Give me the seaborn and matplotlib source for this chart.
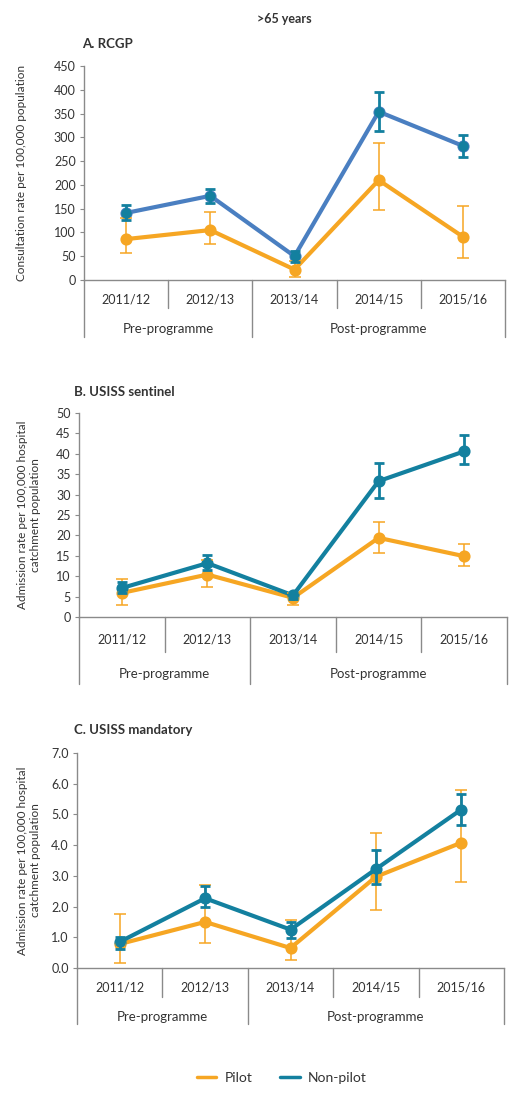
import numpy as np
import pandas as pd
import seaborn as sns
import matplotlib
matplotlib.use("Agg")
import matplotlib.pyplot as plt
from matplotlib.lines import Line2D

# ---------------- data ----------------
seasons = ["2011/12", "2012/13", "2013/14", "2014/15", "2015/16"]
groups = ["Pilot", "Non-pilot"]
phase_labels = ["Pre-programme", "Post-programme"]

# A. RCGP
a_pilot = [86, 105, 22, 210, 91]
a_pilot_lo = [56, 75, 6, 147, 47]
a_pilot_hi = [130, 144, 40, 288, 155]
a_non = [141, 177, 50, 354, 282]
a_non_lo = [126, 162, 37, 314, 259]
a_non_hi = [157, 192, 62, 396, 305]

# B. USISS sentinel
b_pilot = [5.9, 10.4, 4.7, 19.4, 14.9]
b_pilot_lo = [3.0, 7.3, 3.0, 15.6, 12.5]
b_pilot_hi = [9.4, 14.0, 6.0, 23.4, 18.0]
b_non = [7.1, 13.2, 5.3, 33.3, 40.6]
b_non_lo = [5.9, 11.5, 4.5, 29.2, 37.4]
b_non_hi = [8.5, 15.2, 6.0, 37.7, 44.7]

# C. USISS mandatory
c_pilot = [0.78, 1.50, 0.65, 2.97, 4.08]
c_pilot_lo = [0.17, 0.82, 0.25, 1.88, 2.80]
c_pilot_hi = [1.75, 2.70, 1.55, 4.38, 5.80]
c_non = [0.85, 2.27, 1.25, 3.22, 5.16]
c_non_lo = [0.62, 2.00, 0.97, 2.72, 4.65]
c_non_hi = [1.02, 2.68, 1.50, 3.85, 5.65]

ORANGE = "#f6a623"
TEAL = "#13809f"
BLUE = "#4a7fc1"
GRAY = "#8a8a8a"
TXT = "#333333"

sns.set_style("ticks")
plt.rcParams["font.family"] = ["Lato", "DejaVu Sans"]

W, H = 527, 1097
fig = plt.figure(figsize=(W / 100, H / 100), dpi=100)


def make_axes(left, top, right, bottom):
    ax = fig.add_axes([left / W, 1 - bottom / H, (right - left) / W, (bottom - top) / H])
    return ax, bottom - top


def panel(rect, title, title_xy, ylabel, ylabel_x, ylim, yticks, yfmt,
          pilot, plo, phi, non, nlo, nhi, non_line_color,
          cat_off, short_off, grp_off, long_off):
    ax, hpx = make_axes(*rect)
    df = pd.DataFrame({
        "season": seasons * 2,
        "rate": list(pilot) + list(non),
        "group": [groups[0]] * 5 + [groups[1]] * 5,
    })
    sns.pointplot(data=df, x="season", y="rate", hue="group", order=seasons,
                  hue_order=groups, palette={"Pilot": ORANGE, "Non-pilot": non_line_color},
                  errorbar=None, markers="o", linewidth=3.0, markersize=6.5,
                  legend=False, ax=ax)
    xs = np.arange(len(seasons))
    ax.errorbar(xs, pilot, yerr=[np.array(pilot) - np.array(plo), np.array(phi) - np.array(pilot)],
                fmt="o", color=ORANGE, ecolor=ORANGE, elinewidth=1.1, capsize=4, capthick=1.1,
                markersize=6.5, zorder=5)
    ax.errorbar(xs, non, yerr=[np.array(non) - np.array(nlo), np.array(nhi) - np.array(non)],
                fmt="o", color=TEAL, ecolor=TEAL, elinewidth=2.0, capsize=3.5, capthick=2.0,
                markersize=6.5, zorder=6)
    ax.set_xlim(-0.5, len(seasons) - 0.5)
    ax.set_ylim(*ylim)
    ax.set_yticks(yticks)
    ax.set_yticklabels([yfmt.format(v) for v in yticks], fontsize=9, color=TXT)
    ax.set_xticks([])
    ax.set_xlabel("")
    ax.set_ylabel("")
    sns.despine(ax=ax)
    for s in ["left", "bottom"]:
        ax.spines[s].set_color(GRAY)
        ax.spines[s].set_linewidth(1.0)
    ax.tick_params(axis="y", length=3, width=0.8, color=GRAY, pad=3)

    tr = ax.get_xaxis_transform()
    f = lambda px: -px / hpx
    for i, s in enumerate(seasons):
        ax.text(i, f(cat_off), s, transform=tr, ha="center", va="center",
                fontsize=9, color=TXT)
    for xb in [0.5, 2.5, 3.5]:
        ax.add_line(Line2D([xb, xb], [0, f(short_off)], transform=tr, color=GRAY,
                           lw=1.0, clip_on=False))
    for xb in [-0.5, 1.5, 4.5]:
        ax.add_line(Line2D([xb, xb], [0, f(long_off)], transform=tr, color=GRAY,
                           lw=1.0, clip_on=False))
    ax.text(0.5, f(grp_off), phase_labels[0], transform=tr, ha="center", va="center",
            fontsize=9.5, color=TXT)
    ax.text(3.0, f(grp_off), phase_labels[1], transform=tr, ha="center", va="center",
            fontsize=9.5, color=TXT)

    fig.text(title_xy[0] / W, 1 - title_xy[1] / H, title, ha="left", va="center",
             fontsize=9.5, fontweight="bold", color=TXT)
    fig.text(ylabel_x / W, 1 - ((rect[1] + rect[3]) / 2) / H, ylabel, rotation=90,
             ha="center", va="center", fontsize=8.5, color=TXT, linespacing=1.2)
    return ax


fig.text(284 / W, 1 - 19 / H, ">65 years", ha="center", va="center",
         fontsize=9, fontweight="bold", color=TXT)

panel((84, 66, 505, 280), "A. RCGP", (82, 44),
      "Consultation rate per 100,000 population", 22,
      (0, 450), list(range(0, 451, 50)), "{:d}",
      a_pilot, a_pilot_lo, a_pilot_hi, a_non, a_non_lo, a_non_hi, BLUE,
      20, 28, 49, 57)

panel((79, 413, 507, 617), "B. USISS sentinel", (74, 392),
      "Admission rate per 100,000 hospital\ncatchment population", 29,
      (0, 50), list(range(0, 51, 5)), "{:d}",
      b_pilot, b_pilot_lo, b_pilot_hi, b_non, b_non_lo, b_non_hi, TEAL,
      22, 35, 57, 67)

panel((77, 753, 504, 968), "C. USISS mandatory", (74, 730),
      "Admission rate per 100,000 hospital\ncatchment population", 29,
      (0, 7), [0, 1, 2, 3, 4, 5, 6, 7], "{:.1f}",
      c_pilot, c_pilot_lo, c_pilot_hi, c_non, c_non_lo, c_non_hi, TEAL,
      19, 29, 49, 56)

handles = [Line2D([], [], color=ORANGE, lw=2.5), Line2D([], [], color=TEAL, lw=2.5)]
fig.legend(handles, groups, loc="center", bbox_to_anchor=(282 / W, 1 - 1078 / H), ncol=2,
           frameon=False, fontsize=10, handlelength=1.4, handletextpad=0.6,
           columnspacing=2.0, labelcolor=TXT)

fig.savefig("out.png", dpi=100)
